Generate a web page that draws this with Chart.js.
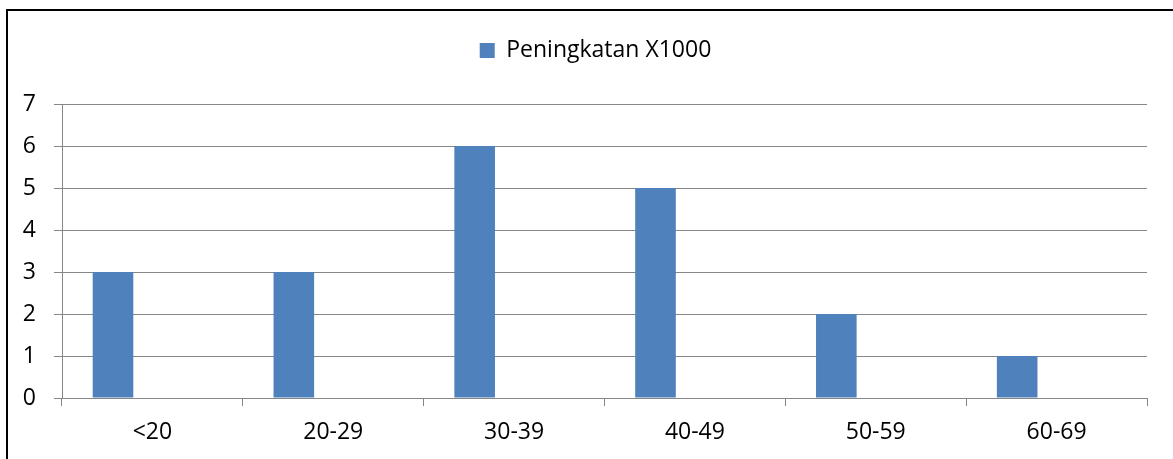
<!DOCTYPE html>
<html>
<head>
<meta charset="utf-8">
<script src="https://cdn.jsdelivr.net/npm/chart.js@4/dist/chart.umd.min.js"></script>
<style>
  body { margin: 0; background: #fff; }
  #frame { position: absolute; left: 6px; top: 9px; width: 1300px; height: 600px;
           border-left: 2px solid #000; border-top: 2px solid #000; }
  #c { position: absolute; left: 0; top: 0; }
</style>
</head>
<body>
<div id="frame"></div>
<canvas id="c" width="1173" height="459"></canvas>
<script>
const categories = ["<20", "20-29", "30-39", "40-49", "50-59", "60-69"];
const peningkatan = [3, 3, 6, 5, 2, 1];
const emptySeries = [null, null, null, null, null, null];
const yTicks = [0, 1, 2, 3, 4, 5, 6, 7];

const grey = "#878787";
const fontFamily = "'Open Sans', sans-serif";
const fontSize = 23;

// taller legend box so the plot starts lower, and nudge it right like the original
const legendSpace = {
  id: "legendSpace",
  beforeUpdate(chart) {
    const lg = chart.legend;
    if (lg && !lg._patched) {
      const origFit = lg.fit;
      lg.fit = function () {
        origFit.call(this);
        this.height = 95;
      };
      lg._patched = true;
    }
  },
  afterLayout(chart) {
    const lg = chart.legend;
    if (lg) {
      lg.left += 22;
      lg.right += 22;
    }
  },
};

const ctx = document.getElementById("c").getContext("2d");
const chart = new Chart(ctx, {
  type: "bar",
  data: {
    labels: categories,
    datasets: [
      {
        label: "Peningkatan X1000",
        data: peningkatan,
        backgroundColor: "#4F81BD",
        borderWidth: 0,
        categoryPercentage: 0.872,
        barPercentage: 0.515,
      },
      {
        label: "",
        data: emptySeries,
        backgroundColor: "#C0504D",
        categoryPercentage: 0.872,
        barPercentage: 0.515,
      },
    ],
  },
  options: {
    responsive: false,
    animation: false,
    layout: {
      padding: { top: 9, right: 26, bottom: 0, left: 0 },
    },
    plugins: {
      legend: {
        display: true,
        position: "top",
        labels: {
          filter: (item) => item.text !== "",
          boxWidth: 15,
          boxHeight: 15,
          padding: 30,
          color: "#000",
          font: { family: fontFamily, size: fontSize },
        },
      },
      tooltip: { enabled: false },
    },
    scales: {
      x: {
        offset: true,
        grid: {
          offset: true,
          drawOnChartArea: false,
          drawTicks: true,
          tickLength: 8,
          color: grey,
        },
        border: { color: grey, width: 1 },
        ticks: {
          color: "#000",
          padding: 13,
          maxRotation: 0,
          font: { family: fontFamily, size: fontSize },
        },
        afterFit: (scale) => { scale.height = 61; },
      },
      y: {
        min: 0,
        max: 7,
        afterBuildTicks: (scale) => {
          scale.ticks = yTicks.map((v) => ({ value: v }));
        },
        grid: {
          color: grey,
          tickLength: 8,
        },
        border: { color: grey, width: 1 },
        ticks: {
          color: "#000",
          padding: 18,
          font: { family: fontFamily, size: fontSize },
        },
        afterFit: (scale) => { scale.width = 62; },
      },
    },
  },
  plugins: [legendSpace],
});
</script>
</body>
</html>
